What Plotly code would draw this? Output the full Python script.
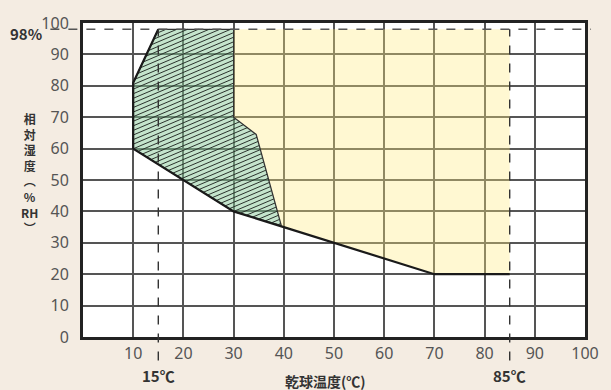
import numpy as np
import plotly.graph_objects as go

# 試験可能範囲 (dry-bulb temp vs relative humidity)
green_temp = [10, 10, 15, 30, 30, 34.5, 39.5, 30, 10]
green_rh = [60, 81, 98, 98, 70, 64.5, 35.5, 40, 60]

yellow_temp = [30, 85, 85, 70, 40, 39.5, 34.5, 30, 30]
yellow_rh = [98, 98, 20, 20, 35, 35.5, 64.5, 70, 98]

edge_temp = [15, 10, 10, 30, 40, 70, 85]
edge_rh = [98, 81, 60, 40, 35, 20, 20]

x_ticks = [10, 20, 30, 40, 50, 60, 70, 80, 90, 100]
y_ticks = [0, 10, 20, 30, 40, 50, 60, 70, 80, 90, 100]
limit_temps = [15, 85]
limit_rh = 98

y_title_chars = ["相", "対", "湿", "度", "︵", "%", "RH", "︶"]

font = "Noto Sans CJK JP, Noto Sans, sans-serif"


def hatch(xs, ys, sx=5.11, sy=3.15, slope=0.42, gap=4.6):
    # clip parallel lines (in pixel space) to the polygon, return data coords
    px = np.array(xs) * sx
    py = np.array(ys) * sy
    c_vals = py - slope * px
    out_x, out_y = [], []
    for c in np.arange(c_vals.min() + gap / 2, c_vals.max(), gap):
        hits = []
        for i in range(len(px) - 1):
            x0, y0, x1, y1 = px[i], py[i], px[i + 1], py[i + 1]
            f0 = y0 - slope * x0 - c
            f1 = y1 - slope * x1 - c
            if (f0 > 0) != (f1 > 0):
                t = f0 / (f0 - f1)
                hits.append(x0 + t * (x1 - x0))
        hits.sort()
        for a, b in zip(hits[0::2], hits[1::2]):
            out_x += [a / sx, b / sx, None]
            out_y += [(slope * a + c) / sy, (slope * b + c) / sy, None]
    return out_x, out_y


fig = go.Figure()

fig.add_trace(go.Scatter(x=yellow_temp, y=yellow_rh, fill="toself", mode="lines",
                         fillcolor="rgba(255,235,126,0.35)", line=dict(width=0),
                         hoverinfo="skip"))
fig.add_trace(go.Scatter(x=green_temp, y=green_rh, fill="toself", mode="lines",
                         fillcolor="rgba(130,198,146,0.47)",
                         line=dict(width=1.2, color="#333"), hoverinfo="skip"))
hx, hy = hatch(green_temp, green_rh)
fig.add_trace(go.Scatter(x=hx, y=hy, mode="lines", line=dict(width=1, color="#2b332d"),
                         hoverinfo="skip"))
fig.add_trace(go.Scatter(x=edge_temp, y=edge_rh, mode="lines",
                         line=dict(width=2.2, color="#1a1a1a"), hoverinfo="skip"))

# dashed limit lines
fig.add_shape(type="line", xref="paper", yref="y", x0=-0.065, x1=1.012,
              y0=limit_rh, y1=limit_rh, line=dict(color="#555", width=1.5, dash="dash"))
for t in limit_temps:
    fig.add_shape(type="line", xref="x", yref="paper", x0=t, x1=t, y0=-0.075,
                  y1=limit_rh / 100, line=dict(color="#333", width=1.4, dash="dash"))
    fig.add_annotation(x=t, y=-0.124, xref="x", yref="paper", text=f"<b>{t}℃</b>",
                       xanchor="center", yanchor="middle",
                       showarrow=False, font=dict(size=15, color="#333", family=font))

fig.add_annotation(x=-0.113, y=0.968, xref="paper", yref="paper", text="<b>98%</b>",
                   xanchor="center", yanchor="middle",
                   showarrow=False, font=dict(size=15, color="#333", family=font))
fig.add_annotation(x=0.483, y=-0.14, xref="paper", yref="paper", text="<b>乾球温度(℃)</b>",
                   xanchor="center", yanchor="middle",
                   showarrow=False, font=dict(size=14, color="#333", family=font))

# vertical y-axis title, stacked glyphs
fig.add_annotation(x=-0.106, y=(337 - 172) / 315, xref="paper", yref="paper",
                   text="<b>" + "<br>".join(y_title_chars) + "</b>",
                   xanchor="center", yanchor="middle", showarrow=False,
                   font=dict(size=12, color="#333", family=font))

axis_common = dict(showgrid=True, gridcolor="#555", gridwidth=1.5, zeroline=False,
                   showline=True, linecolor="#222", linewidth=3, mirror=True,
                   ticks="", layer="above traces",
                   tickfont=dict(size=16, color="#555", family="Noto Sans, sans-serif"))

fig.update_xaxes(range=[0, 100], tickvals=x_ticks, ticklabelstandoff=0, **axis_common)
fig.update_yaxes(range=[0, 100], tickvals=y_ticks, ticklabelstandoff=8, **axis_common)

fig.update_layout(width=611, height=390, showlegend=False,
                  margin=dict(l=83, r=17, t=22, b=53),
                  paper_bgcolor="#f4ece2", plot_bgcolor="white")

fig.write_html("out.html", config={"displayModeBar": False},
               post_script="document.body.style.margin='0';")
